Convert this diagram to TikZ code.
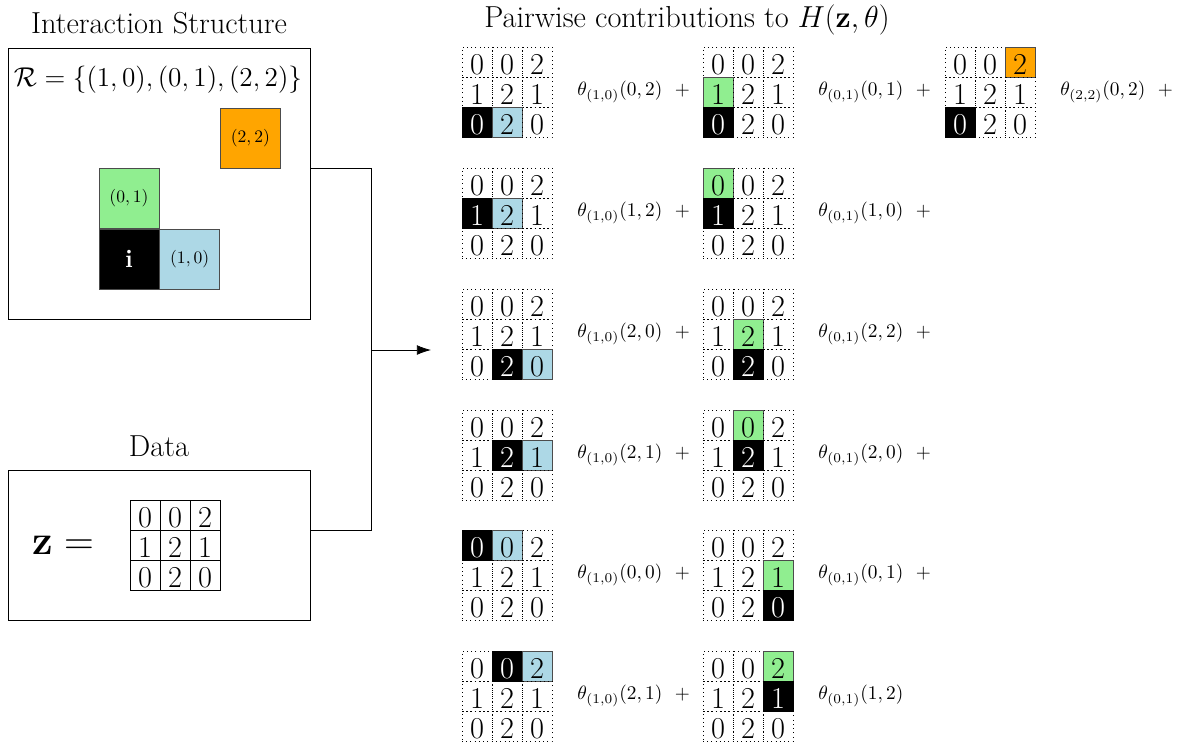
\RequirePackage{fix-cm}
\documentclass[tikz,border=0pt]{standalone}
\usepackage{amsmath,amssymb}
\usepackage{tikz}
\usetikzlibrary{arrows.meta,positioning}
\definecolor{rightnb}{RGB}{173,216,230}
\definecolor{upnb}{RGB}{144,238,144}
\definecolor{diagnb}{RGB}{255,165,0}

\tikzset{
  cell/.style={draw,dotted,minimum size=6mm,inner sep=0pt,font=\LARGE,text height=14pt,text depth=0pt},
  egocell/.style={cell,solid,draw=black,fill=black,text=white},
  partcell/.style={cell,solid,draw=black!70,fill=#1},
  datacell/.style={cell,solid},
  term/.style={font=\fontsize{11}{13}\selectfont,inner sep=2pt},
  frame/.style={draw,minimum width=6.04cm,inner sep=0pt},
  site/.style={draw=black!70,minimum size=1.2cm,inner sep=0pt},
}

% one pairwise term: name, x, y, ego row, ego col, partner row, partner col, colour
\newcommand{\pgrid}[8]{%
  \foreach \val [count=\k from 0] in {0,0,2,1,2,1,0,2,0} {
    \pgfmathtruncatemacro{\gr}{int(\k/3)}
    \pgfmathtruncatemacro{\gc}{mod(\k,3)}
    \pgfmathtruncatemacro{\kind}{and(\gr==#4,\gc==#5)+2*and(\gr==#6,\gc==#7)}
    \ifcase\kind
      \node[cell] (#1-\gr-\gc) at ({#2+30*\gc+15},{#3+30*\gr+15}) {\val};
    \or
      \node[egocell] (#1-\gr-\gc) at ({#2+30*\gc+15},{#3+30*\gr+15}) {\val};
    \or
      \node[partcell=#8] (#1-\gr-\gc) at ({#2+30*\gc+15},{#3+30*\gr+15}) {\val};
    \fi
  }%
}

\begin{document}
\begin{tikzpicture}[x=0.02cm,y=-0.02cm,>=Latex]
\useasboundingbox (0,0) rectangle (1199,744);

% Interaction structure
\node(structbox)[frame,minimum height=5.42cm] at (159,183.5) {};
\node(structtitle)[above=4pt of structbox,font=\LARGE]{Interaction Structure};
\node(rset)[font=\fontsize{15.5}{18}\selectfont] at (158,80) {$\mathcal{R}=\{(1,0),(0,1),(2,2)\}$};
\node(ego)[site,fill=black,text=white,font=\Large\bfseries] at (129,259) {i};
\node(nbright)[site,fill=rightnb,right=0pt of ego]{$(1,0)$};
\node(nbup)[site,fill=upnb,above=0pt of ego]{$(0,1)$};
\node(nbdiag)[site,fill=diagnb,above right=1.2cm and 0pt of nbright]{$(2,2)$};

% Data
\node(databox)[frame,minimum height=3cm] at (159,545) {};
\node(datatitle)[above=4pt of databox,font=\LARGE]{Data};
\node(zlabel)[font=\fontsize{23.5}{28}\selectfont] at (63,545) {$\mathbf{z}=$};
\foreach \val [count=\k from 0] in {0,0,2,1,2,1,0,2,0} {
  \pgfmathtruncatemacro{\gr}{int(\k/3)}
  \pgfmathtruncatemacro{\gc}{mod(\k,3)}
  \node[datacell] (z-\gr-\gc) at ({130+30*\gc+15},{500+30*\gr+15}) {\val};
}

% Connector
\coordinate(joint) at (371,350);
\coordinate(target) at (431,350);
\draw ([yshift=3mm]structbox.east) -| (joint);
\draw ([yshift=3mm]databox.east) -| (joint);
\draw[-{Latex[length=8pt,width=5.5pt]}] (joint) -- (target);

% Pairwise contributions
\node(pairtitle)[font=\LARGE] at (687,20) {Pairwise contributions to $H(\mathbf{z},\theta)$};

\pgrid{g1a}{462}{47}{2}{0}{2}{1}{rightnb}
\pgrid{g1b}{703}{47}{2}{0}{1}{0}{upnb}
\pgrid{g1c}{945}{47}{2}{0}{0}{2}{diagnb}
\pgrid{g2a}{462}{168}{1}{0}{1}{1}{rightnb}
\pgrid{g2b}{703}{168}{1}{0}{0}{0}{upnb}
\pgrid{g3a}{462}{289}{2}{1}{2}{2}{rightnb}
\pgrid{g3b}{703}{289}{2}{1}{1}{1}{upnb}
\pgrid{g4a}{462}{410}{1}{1}{1}{2}{rightnb}
\pgrid{g4b}{703}{410}{1}{1}{0}{1}{upnb}
\pgrid{g5a}{462}{530}{0}{0}{0}{1}{rightnb}
\pgrid{g5b}{703}{530}{2}{2}{1}{2}{upnb}
\pgrid{g6a}{462}{651}{0}{1}{0}{2}{rightnb}
\pgrid{g6b}{703}{651}{1}{2}{0}{2}{upnb}

\node(t1a)[term,right=12pt of g1a-1-2]{$\theta_{(1,0)}(0,2)$~~$+$};
\node(t1b)[term,right=12pt of g1b-1-2]{$\theta_{(0,1)}(0,1)$~~$+$};
\node(t1c)[term,right=12pt of g1c-1-2]{$\theta_{(2,2)}(0,2)$~~$+$};
\node(t2a)[term,right=12pt of g2a-1-2]{$\theta_{(1,0)}(1,2)$~~$+$};
\node(t2b)[term,right=12pt of g2b-1-2]{$\theta_{(0,1)}(1,0)$~~$+$};
\node(t3a)[term,right=12pt of g3a-1-2]{$\theta_{(1,0)}(2,0)$~~$+$};
\node(t3b)[term,right=12pt of g3b-1-2]{$\theta_{(0,1)}(2,2)$~~$+$};
\node(t4a)[term,right=12pt of g4a-1-2]{$\theta_{(1,0)}(2,1)$~~$+$};
\node(t4b)[term,right=12pt of g4b-1-2]{$\theta_{(0,1)}(2,0)$~~$+$};
\node(t5a)[term,right=12pt of g5a-1-2]{$\theta_{(1,0)}(0,0)$~~$+$};
\node(t5b)[term,right=12pt of g5b-1-2]{$\theta_{(0,1)}(0,1)$~~$+$};
\node(t6a)[term,right=12pt of g6a-1-2]{$\theta_{(1,0)}(2,1)$~~$+$};
\node(t6b)[term,right=12pt of g6b-1-2]{$\theta_{(0,1)}(1,2)$};
\end{tikzpicture}
\end{document}
